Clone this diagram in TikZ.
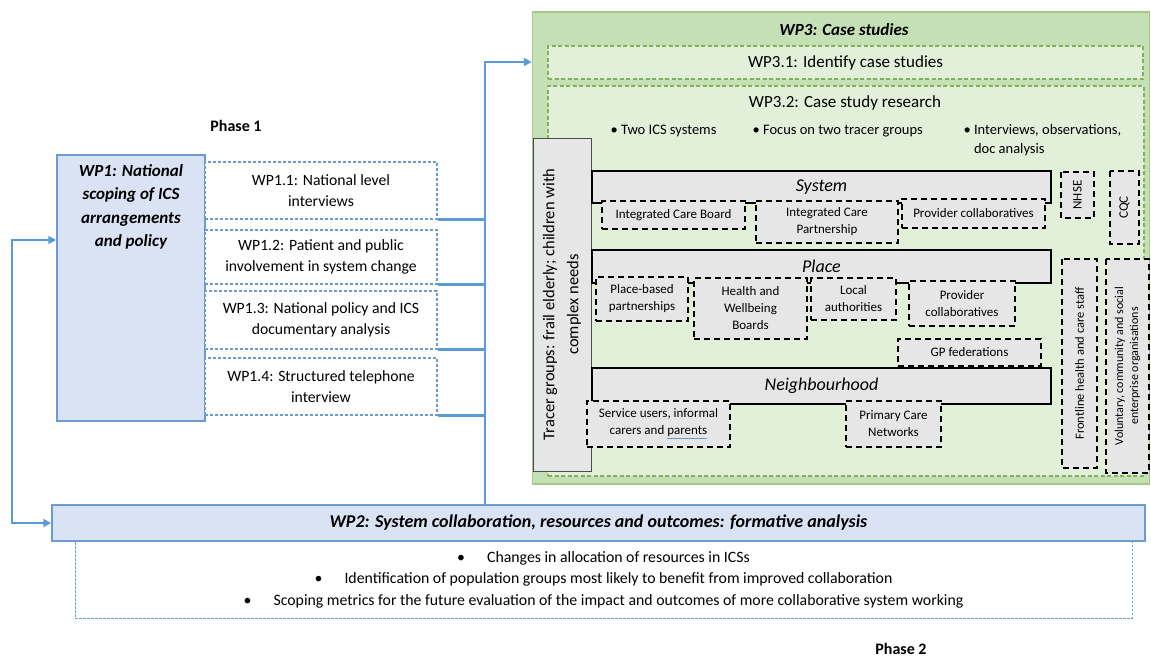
\documentclass[tikz,border=0pt]{standalone}
\usepackage{fontspec}
\setmainfont{Carlito}
\usetikzlibrary{arrows.meta,positioning}

\definecolor{wpblue}{HTML}{5B9BD5}
\definecolor{wpedge}{HTML}{6E9BCF}
\definecolor{wpfill}{HTML}{DAE3F3}
\definecolor{caseouter}{HTML}{C5E0B4}
\definecolor{caseedge}{HTML}{A3C98A}
\definecolor{caseinner}{HTML}{E2F0D9}
\definecolor{casedash}{HTML}{7FB25A}
\definecolor{levelgrey}{HTML}{E7E6E6}

\tikzset{
    flow/.style={draw=wpblue, line width=2.2pt, >={Triangle[length=8pt,width=8pt]}},
    wpbox/.style={draw=wpedge, line width=1.5pt, fill=wpfill},
    subwp/.style={draw=wpedge, line width=1.1pt, dash pattern=on 3pt off 2pt, fill=white,
        align=center, inner sep=0pt, font=\fontsize{15.7}{21}\selectfont},
    casebox/.style={draw=caseedge, line width=1.5pt, fill=caseouter},
    subcase/.style={draw=casedash, line width=1.2pt, dash pattern=on 4pt off 2.5pt, fill=caseinner},
    levelbar/.style={draw=black, line width=1.8pt, fill=levelgrey, inner sep=0pt,
        font=\fontsize{18}{20}\selectfont\itshape},
    orgbox/.style={draw=black, line width=1.8pt, dash pattern=on 6pt off 4pt, fill=levelgrey,
        align=center, inner sep=0pt, font=\fontsize{13}{17}\selectfont},
    phase/.style={font=\fontsize{16}{18}\selectfont\bfseries},
    point/.style={font=\fontsize{14.5}{19}\selectfont},
}

\begin{document}
\begin{tikzpicture}[x=1pt, y=-1pt]
        \useasboundingbox (0,0) rectangle (1151,661);

        \node[phase] (phase1) at (236,126) {Phase 1};
        \node[phase] (phase2) at (901,649) {Phase 2};

        % work package 1
        \node[wpbox, minimum width=148, minimum height=266] (wp1) at (131,288) {};
        \node[anchor=north, align=center, font=\fontsize{17}{23.5}\selectfont\bfseries\itshape]
            (wp1t) at (131,161) {WP1: National\\scoping of ICS\\arrangements\\and policy};

        \foreach \w/\y/\h/\txt in {wp11/190.5/57/{WP1.1: National level\\interviews},
                                   wp12/257/54/{WP1.2: Patient and public\\involvement in system change},
                                   wp13/320/58/{WP1.3: National policy and ICS\\documentary analysis},
                                   wp14/386.5/57/{WP1.4: Structured telephone\\interview}} {
            \node[subwp, minimum width=232, minimum height=\h] (\w) at (321,\y) {\txt};
        }

        % work package 3
        \node[casebox, minimum width=617, minimum height=472] (wp3) at (841,248) {};
        \node[font=\fontsize{17}{19}\selectfont\bfseries\itshape] (wp3t) at (844,30) {WP3: Case studies};
        \node[subcase, minimum width=595, minimum height=33, font=\fontsize{17}{19}\selectfont]
            (wp31) at (845.5,62.5) {WP3.1: Identify case studies};
        \node[subcase, minimum width=596, minimum height=390] (wp32) at (846,281) {};
        \node[font=\fontsize{17}{19}\selectfont] (wp32t) at (845,103) {WP3.2: Case study research};

        \node[point, anchor=west] (pt1) at (607,131) {\textbullet~Two ICS systems};
        \node[point, anchor=west] (pt2) at (749,131) {\textbullet~Focus on two tracer groups};
        \node[point, anchor=north west, align=left] (pt3) at (960,121)
            {\textbullet~Interviews, observations,\\\phantom{\textbullet~}doc analysis};

        \node[rotate=90, draw=black!70, line width=1pt, fill=levelgrey, align=center,
              minimum width=333, minimum height=58, inner sep=0pt, font=\fontsize{16.5}{24}\selectfont]
            (tracer) at (562,304.5) {Tracer groups: frail elderly; children with\\complex needs};

        \foreach \w/\y/\h/\txt in {sys/187/32/System, place/266.5/33/Place, nbhd/386/36/Neighbourhood} {
            \node[levelbar, minimum width=459, minimum height=\h] (\w) at (821.5,\y) {\txt};
        }

        \foreach \w/\x/\y/\bw/\h/\txt in {icb/673.5/215/143/28/{Integrated Care Board},
                                          icp/827/222/142/42/{Integrated Care\\Partnership},
                                          pcs/973.5/213.5/143/29/{Provider collaboratives},
                                          pbp/642/299/92/44/{Place-based\\partnerships},
                                          hwb/750.5/308.5/113/61/{Health and\\Wellbeing\\Boards},
                                          la/853.5/299/85/42/{Local\\authorities},
                                          pcp/962/303.5/106/45/{Provider\\collaboratives},
                                          gpf/969.5/352.5/143/27/{GP federations},
                                          su/658.5/424/143/46/{Service users, informal\\carers and {\color{wpblue}\underline{\color{black}parents}}},
                                          pcn/893.5/424/95/46/{Primary Care\\Networks}} {
            \node[orgbox, minimum width=\bw, minimum height=\h] (\w) at (\x,\y) {\txt};
        }

        \node[orgbox, rotate=90, minimum width=46, minimum height=33] (nhse) at (1077.5,195) {NHSE};
        \node[orgbox, rotate=90, minimum width=73, minimum height=29] (cqc) at (1124.5,207.5) {CQC};
        \node[orgbox, rotate=90, minimum width=209, minimum height=35, font=\fontsize{12.5}{15}\selectfont]
            (front) at (1079.5,363.5) {Frontline health and care staff};
        \node[orgbox, rotate=90, minimum width=214, minimum height=43, font=\fontsize{12}{15}\selectfont]
            (vol) at (1127.5,366) {Voluntary, community and social\\enterprise organisations};

        % work package 2
        \node[wpbox, minimum width=1093, minimum height=36, font=\fontsize{18}{20}\selectfont\bfseries\itshape]
            (wp2) at (598.5,523) {WP2: System collaboration, resources and outcomes: formative analysis};
        \node[draw=wpedge, line width=1pt, dash pattern=on 2.5pt off 1.5pt, align=center,
              minimum width=1057, minimum height=77, inner sep=0pt, font=\fontsize{15.8}{21.5}\selectfont]
            (wp2list) at (603.5,579.5)
            {\textbullet\hspace{1.4em}Changes in allocation of resources in ICSs\\
             \textbullet\hspace{1.4em}Identification of population groups most likely to benefit from improved collaboration\\
             \textbullet\hspace{1.4em}Scoping metrics for the future evaluation of the impact and outcomes of more collaborative system working};

        % connectors
        \coordinate (riser) at (485,62);
        \foreach \w in {wp11,wp12,wp13,wp14} {
            \draw[flow] (\w.south east) -- (\w.south east -| riser);
        }
        \draw[flow,->] (wp2.north -| riser) -- (riser) -- (wp3.west |- riser);
        \draw[flow,<->] ([yshift=48pt]wp1.west) -- ++(-44,0) |- (wp2.west);

    \end{tikzpicture}
\end{document}
